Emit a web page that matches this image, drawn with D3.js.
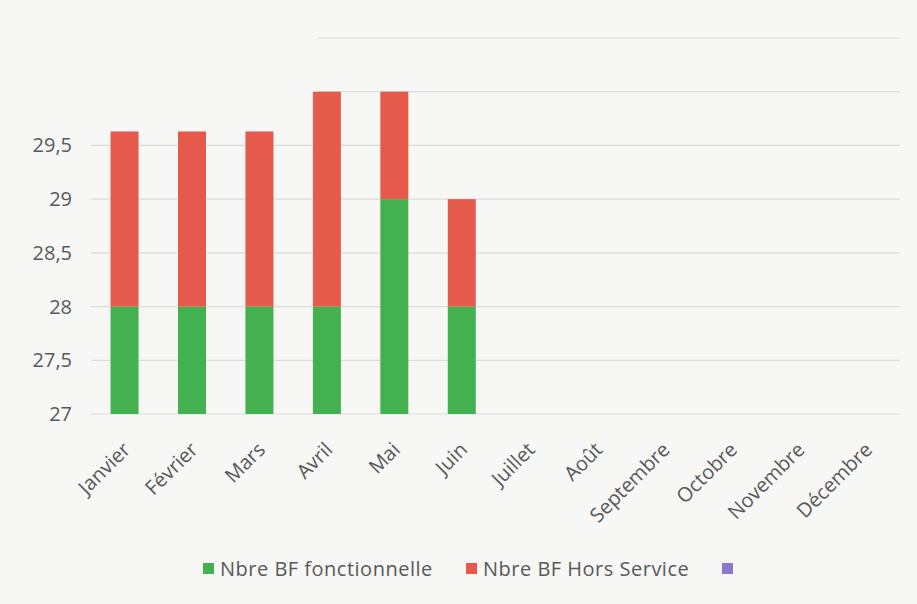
<!DOCTYPE html>
<html lang="fr">
<head>
<meta charset="utf-8">
<title>Nbre BF</title>
<script src="https://cdn.jsdelivr.net/npm/d3@7"></script>
<style>
  body { margin: 0; background: #f7f7f6; }
  svg { display: block; }
</style>
</head>
<body>
<script>
// values
var months = ["Janvier", "Février", "Mars", "Avril", "Mai", "Juin", "Juillet", "Août",
              "Septembre", "Octobre", "Novembre", "Décembre"];
var fonctionnelle = [28, 28, 28, 28, 29, 28, null, null, null, null, null, null];
var horsService  = [1.63, 1.63, 1.63, 2, 1, 1, null, null, null, null, null, null];
var yTicks = [27, 27.5, 28, 28.5, 29, 29.5];
var upperGrid = [30, 30.5];

var w = 917, h = 604;
var plotLeft = 91, plotRight = 900, plotTop = 38, plotBottom = 414;

var svg = d3.select("body").append("svg")
  .attr("width", w)
  .attr("height", h);

var x = d3.scaleBand()
  .domain(months)
  .range([plotLeft, plotRight])
  .paddingInner(0.585)
  .paddingOuter(0.29);

var y = d3.scaleLinear()
  .domain([27, 30.5])
  .range([plotBottom, plotTop]);

// gridlines
svg.append("g")
  .selectAll("line")
  .data(yTicks)
  .enter()
  .append("line")
  .attr("x1", plotLeft)
  .attr("x2", plotRight)
  .attr("y1", function(d) { return y(d); })
  .attr("y2", function(d) { return y(d); })
  .attr("stroke", "#dcdcdc")
  .attr("stroke-width", 1.2);

// the upper lines only show on the right part of the scan
svg.append("g")
  .selectAll("line")
  .data(upperGrid)
  .enter()
  .append("line")
  .attr("x1", 318)
  .attr("x2", plotRight)
  .attr("y1", function(d) { return y(d); })
  .attr("y2", function(d) { return y(d); })
  .attr("stroke", "#dcdcdc")
  .attr("stroke-width", 1.2);

// y labels
svg.append("g")
  .selectAll("text")
  .data(yTicks)
  .enter()
  .append("text")
  .attr("x", 72)
  .attr("y", function(d) { return y(d); })
  .attr("dy", "0.35em")
  .attr("text-anchor", "end")
  .attr("font-family", "Open Sans, sans-serif")
  .attr("font-size", "20px")
  .attr("fill", "#595959")
  .text(function(d) { return String(d).replace(".", ","); });

var data = months.map(function(m, i) {
  return { month: m, f: fonctionnelle[i], hs: horsService[i] };
}).filter(function(d) { return d.f !== null; });

// green part
svg.append("g")
  .selectAll("rect")
  .data(data)
  .enter()
  .append("rect")
  .attr("x", function(d) { return x(d.month); })
  .attr("width", x.bandwidth())
  .attr("y", function(d) { return y(d.f); })
  .attr("height", function(d) { return y(27) - y(d.f); })
  .attr("fill", "#43b14f");

// red part stacked on top
svg.append("g")
  .selectAll("rect")
  .data(data)
  .enter()
  .append("rect")
  .attr("x", function(d) { return x(d.month); })
  .attr("width", x.bandwidth())
  .attr("y", function(d) { return y(d.f + d.hs); })
  .attr("height", function(d) { return y(d.f) - y(d.f + d.hs); })
  .attr("fill", "#e65a4c");

// month labels, rotated
svg.append("g")
  .selectAll("text")
  .data(months)
  .enter()
  .append("text")
  .attr("transform", function(d) {
    return "translate(" + (x(d) + x.bandwidth() / 2 + 2) + "," + 446 + ") rotate(-45)";
  })
  .attr("text-anchor", "end")
  .attr("dy", "0.35em")
  .attr("font-family", "Open Sans, sans-serif")
  .attr("font-size", "20px")
  .attr("fill", "#595959")
  .text(function(d) { return d; });

// legend
var legend = [
  { label: "Nbre BF fonctionnelle", color: "#43b14f", x: 203 },
  { label: "Nbre BF Hors Service", color: "#e65a4c", x: 466 },
  { label: "", color: "#8a78cc", x: 722 }
];

var lg = svg.append("g")
  .selectAll("g")
  .data(legend)
  .enter()
  .append("g")
  .attr("transform", function(d) { return "translate(" + d.x + ",563)"; });

lg.append("rect")
  .attr("width", 11)
  .attr("height", 11)
  .attr("fill", function(d) { return d.color; });

lg.append("text")
  .attr("x", 17)
  .attr("y", 6)
  .attr("dy", "0.35em")
  .attr("font-family", "Open Sans, sans-serif")
  .attr("font-size", "20px")
  .attr("letter-spacing", "0.5px")
  .attr("fill", "#595959")
  .text(function(d) { return d.label; });
</script>
</body>
</html>
